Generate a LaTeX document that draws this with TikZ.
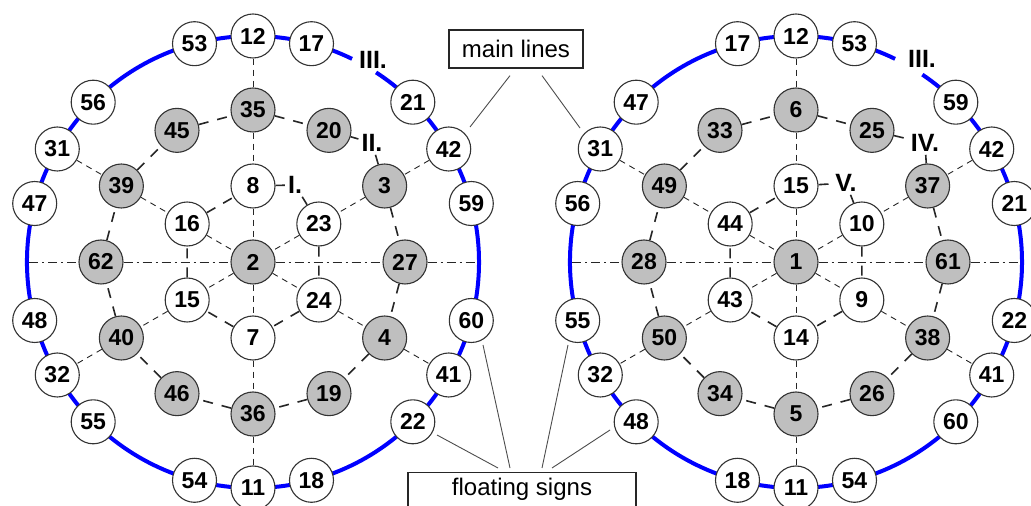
\documentclass[tikz,border=0pt]{standalone}
\usepackage{fontspec}
\setsansfont{Liberation Sans}
\usepackage{tikz}
\usepackage{xcolor}

\begin{document}
\begin{tikzpicture}[x=1pt,y=1pt,every node/.style={font=\sffamily\bfseries\fontsize{23}{23}\selectfont},
  wnode/.style={circle,draw=black!80,fill=white,line width=1.1pt,minimum size=44pt,inner sep=0pt},
  gnode/.style={wnode,fill=black!25},
  roman/.style={inner sep=3pt,font=\sffamily\bfseries\fontsize{25}{25}\selectfont},
  mainline/.style={blue,line width=4pt},
  ringline/.style={black!85,line width=1.6pt,dash pattern=on 10pt off 9pt},
  spokeline/.style={black!85,line width=0.9pt,dash pattern=on 6pt off 5pt},
  axisline/.style={black!85,line width=0.9pt,dash pattern=on 9pt off 4pt on 2pt off 4pt},
  callout/.style={draw=black!85,line width=1.2pt,fill=white,font=\sffamily\fontsize{24}{24}\selectfont},
  callline/.style={black!70,line width=0.9pt}]
\useasboundingbox (0,0) rectangle (1031,506);

\begin{scope}[shift={(253,244)}]
\draw[mainline] (64:226) arc[start angle=64,end angle=417,radius=226];
\coordinate (lW) at (180:224);
\coordinate (lE) at (0:224);
\node[wnode] (l12) at (90:226) {12};
\node[wnode] (l17) at (75:226) {17};
\node[wnode] (l53) at (105:226) {53};
\node[wnode] (l56) at (135:226) {56};
\node[wnode] (l21) at (45:226) {21};
\node[wnode] (l31) at (150:226) {31};
\node[wnode] (l42) at (30:226) {42};
\node[wnode] (l47) at (165:226) {47};
\node[wnode] (l59) at (15:226) {59};
\node[wnode] (l48) at (195:226) {48};
\node[wnode] (l60) at (345:226) {60};
\node[wnode] (l32) at (210:226) {32};
\node[wnode] (l41) at (330:226) {41};
\node[wnode] (l55) at (225:226) {55};
\node[wnode] (l22) at (315:226) {22};
\node[wnode] (l54) at (255:226) {54};
\node[wnode] (l18) at (285:226) {18};
\node[wnode] (l11) at (270:226) {11};
\node[gnode] (l35) at (90:152) {35};
\node[gnode] (l20) at (60:152) {20};
\node[gnode] (l3) at (30:152) {3};
\node[gnode] (l27) at (0:152) {27};
\node[gnode] (l4) at (330:152) {4};
\node[gnode] (l19) at (300:152) {19};
\node[gnode] (l36) at (270:152) {36};
\node[gnode] (l46) at (240:152) {46};
\node[gnode] (l40) at (210:152) {40};
\node[gnode] (l62) at (180:152) {62};
\node[gnode] (l39) at (150:152) {39};
\node[gnode] (l45) at (120:152) {45};
\node[wnode] (l8) at (90:76) {8};
\node[wnode] (l23) at (30:76) {23};
\node[wnode] (l24) at (330:76) {24};
\node[wnode] (l7) at (270:76) {7};
\node[wnode] (l15) at (210:76) {15};
\node[wnode] (l16) at (150:76) {16};
\node[gnode] (l2) at (0,0) {2};
\node[roman] (lI) at (42,77) {I.};
\node[roman] (lII) at (119,119) {II.};
\node[roman] (lIII) at (120,202) {III.};
\end{scope}

\begin{scope}[shift={(796,244)}]
\draw[mainline] (64:226) arc[start angle=64,end angle=416,radius=226];
\coordinate (rW) at (180:224);
\coordinate (rE) at (0:224);
\node[wnode] (r12) at (90:226) {12};
\node[wnode] (r53) at (75:226) {53};
\node[wnode] (r17) at (105:226) {17};
\node[wnode] (r47) at (135:226) {47};
\node[wnode] (r59) at (45:226) {59};
\node[wnode] (r31) at (150:226) {31};
\node[wnode] (r42) at (30:226) {42};
\node[wnode] (r56) at (165:226) {56};
\node[wnode] (r21) at (15:226) {21};
\node[wnode] (r55) at (195:226) {55};
\node[wnode] (r22) at (345:226) {22};
\node[wnode] (r32) at (210:226) {32};
\node[wnode] (r41) at (330:226) {41};
\node[wnode] (r48) at (225:226) {48};
\node[wnode] (r60) at (315:226) {60};
\node[wnode] (r18) at (255:226) {18};
\node[wnode] (r54) at (285:226) {54};
\node[wnode] (r11) at (270:226) {11};
\node[gnode] (r6) at (90:152) {6};
\node[gnode] (r25) at (60:152) {25};
\node[gnode] (r37) at (30:152) {37};
\node[gnode] (r61) at (0:152) {61};
\node[gnode] (r38) at (330:152) {38};
\node[gnode] (r26) at (300:152) {26};
\node[gnode] (r5) at (270:152) {5};
\node[gnode] (r34) at (240:152) {34};
\node[gnode] (r50) at (210:152) {50};
\node[gnode] (r28) at (180:152) {28};
\node[gnode] (r49) at (150:152) {49};
\node[gnode] (r33) at (120:152) {33};
\node[wnode] (r15) at (90:76) {15};
\node[wnode] (r10) at (30:76) {10};
\node[wnode] (r9) at (330:76) {9};
\node[wnode] (r14) at (270:76) {14};
\node[wnode] (r43) at (210:76) {43};
\node[wnode] (r44) at (150:76) {44};
\node[gnode] (r1) at (0,0) {1};
\node[roman] (rV) at (50,79) {V.};
\node[roman] (rIV) at (129,119) {IV.};
\node[roman] (rIII) at (126,203) {III.};
\end{scope}

\draw[axisline] (lW) -- (l62) -- (l2) -- (l27) -- (lE);
\draw[spokeline] (l12) -- (l35) -- (l8) -- (l2) -- (l7) -- (l36) -- (l11);
\draw[spokeline] (l31) -- (l39) -- (l16) -- (l2) -- (l24) -- (l4) -- (l41);
\draw[spokeline] (l42) -- (l3) -- (l23) -- (l2) -- (l15) -- (l40) -- (l32);
\draw[ringline] (l35) -- (l20) -- (lII) -- (l3) -- (l27) -- (l4) -- (l19) -- (l36) -- (l46) -- (l40) -- (l62) -- (l39) -- (l45) -- (l35);
\draw[ringline] (l8) -- (lI) -- (l23) -- (l24) -- (l7) -- (l15) -- (l16) -- (l8);

\draw[axisline] (rW) -- (r28) -- (r1) -- (r61) -- (rE);
\draw[spokeline] (r12) -- (r6) -- (r15) -- (r1) -- (r14) -- (r5) -- (r11);
\draw[spokeline] (r31) -- (r49) -- (r44) -- (r1) -- (r9) -- (r38) -- (r41);
\draw[spokeline] (r42) -- (r37) -- (r10) -- (r1) -- (r43) -- (r50) -- (r32);
\draw[ringline] (r6) -- (r25) -- (rIV) -- (r37) -- (r61) -- (r38) -- (r26) -- (r5) -- (r34) -- (r50) -- (r28) -- (r49) -- (r33) -- (r6);
\draw[ringline] (r15) -- (rV) -- (r10) -- (r9) -- (r14) -- (r43) -- (r44) -- (r15);

\node[callout,minimum width=134pt,minimum height=38pt] (mainbox) at (516,457) {main lines};
\node[callout,minimum width=228pt,anchor=north,inner ysep=6pt,text depth=14pt] (floatbox) at (522,34) {floating signs};
\coordinate (mtl) at (470,379);
\coordinate (mtr) at (580,378);
\coordinate (ft1) at (437,71);
\coordinate (ft2) at (483,161);
\coordinate (ft3) at (568,161);
\coordinate (ft4) at (610,76);
\draw[callline] (mtl) -- ([xshift=-6pt,yshift=-7pt]mainbox.south);
\draw[callline] (mtr) -- ([xshift=26pt,yshift=-7pt]mainbox.south);
\draw[callline] (ft1) -- ([xshift=-24pt,yshift=4pt]floatbox.north);
\draw[callline] (ft2) -- ([xshift=-12pt,yshift=4pt]floatbox.north);
\draw[callline] (ft3) -- ([xshift=20pt,yshift=4pt]floatbox.north);
\draw[callline] (ft4) -- ([xshift=30pt,yshift=4pt]floatbox.north);
\end{tikzpicture}
\end{document}
